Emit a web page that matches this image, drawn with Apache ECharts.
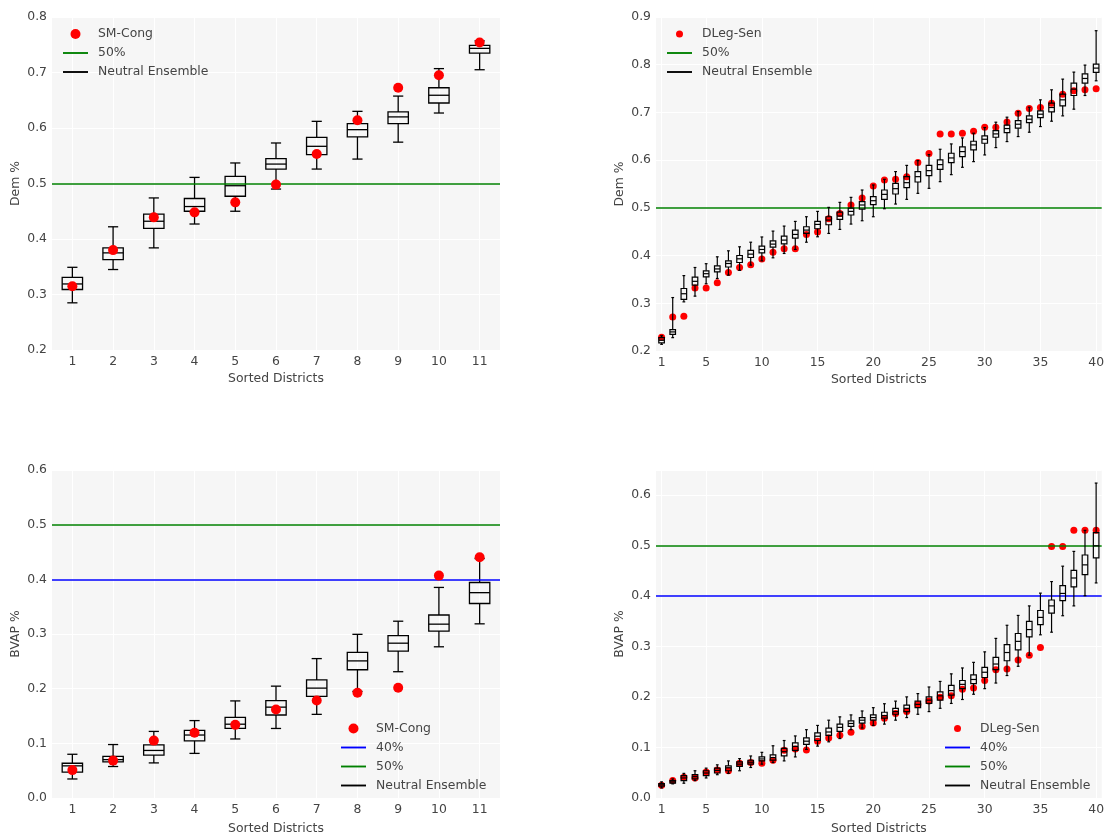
<!DOCTYPE html>
<html>
<head>
<meta charset="utf-8">
<script src="https://cdn.jsdelivr.net/npm/echarts@6/dist/echarts.min.js"></script>
<style>
html,body{margin:0;padding:0;background:#fff;}
#chart{width:1107px;height:836px;}
</style>
</head>
<body>
<div id="chart"></div>
<script>
// ---------- categories ----------
const districts11 = ['1','2','3','4','5','6','7','8','9','10','11'];
const districts40 = Array.from({length: 40}, (_, i) => String(i + 1));

// ---------- thresholds ----------
const line50 = 0.5;
const line40 = 0.4;

// ---------- Top-left: SM-Cong, Dem % ----------
const congDemLow  = [0.285,0.345,0.384,0.427,0.450,0.490,0.526,0.544,0.5745,0.627,0.705];
const congDemQ1   = [0.309,0.363,0.419,0.450,0.477,0.526,0.552,0.584,0.608,0.645,0.735];
const congDemMed  = [0.319,0.375,0.432,0.4585,0.496,0.535,0.567,0.597,0.620,0.659,0.7435];
const congDemQ3   = [0.331,0.384,0.445,0.473,0.513,0.545,0.583,0.608,0.629,0.6725,0.749];
const congDemHigh = [0.349,0.422,0.474,0.511,0.537,0.573,0.612,0.630,0.6575,0.707,0.757];
const congDemPlan = [0.315,0.380,0.439,0.448,0.466,0.498,0.553,0.614,0.6725,0.695,0.754];

// ---------- Top-right: DLeg-Sen, Dem % ----------
const senDemLow  = [0.214,0.228,0.303,0.315,0.341,0.352,0.359,0.369,0.380,0.389,0.3953,0.4044,0.4128,0.428,0.4394,0.4464,0.4548,0.466,0.473,0.4814,0.4982,0.508,0.5178,0.5304,0.5409,0.5549,0.5696,0.585,0.5969,0.6109,0.6263,0.6389,0.6494,0.6585,0.6704,0.6816,0.6928,0.7068,0.7355,0.7663];
const senDemQ1   = [0.217,0.235,0.308,0.338,0.3555,0.366,0.376,0.3855,0.396,0.4058,0.4177,0.4247,0.4366,0.4464,0.4562,0.4646,0.4758,0.485,0.4975,0.5066,0.5178,0.529,0.5423,0.5542,0.5675,0.5808,0.5948,0.6074,0.6214,0.6354,0.648,0.6578,0.6669,0.6788,0.6893,0.7012,0.7138,0.7355,0.7614,0.7838];
const senDemMed  = [0.2225,0.240,0.320,0.346,0.362,0.372,0.3834,0.3932,0.403,0.4128,0.424,0.4324,0.4443,0.4534,0.4653,0.4744,0.4828,0.4926,0.506,0.515,0.5283,0.5402,0.5528,0.5654,0.578,0.5906,0.6046,0.6179,0.6319,0.6438,0.655,0.6662,0.6753,0.6858,0.6963,0.7103,0.7264,0.7488,0.7712,0.7929];
const senDemQ3   = [0.228,0.245,0.331,0.355,0.368,0.3785,0.389,0.4002,0.4107,0.4198,0.431,0.4408,0.4534,0.4604,0.4716,0.4814,0.4912,0.4996,0.5129,0.5234,0.5374,0.5514,0.5654,0.576,0.589,0.6004,0.6144,0.6277,0.6396,0.6508,0.662,0.6732,0.683,0.6928,0.7033,0.7194,0.7383,0.7614,0.781,0.8013];
const senDemHigh = [0.232,0.312,0.358,0.375,0.383,0.3974,0.410,0.4184,0.428,0.439,0.4513,0.4618,0.4716,0.4814,0.4926,0.501,0.5115,0.522,0.5374,0.548,0.5598,0.576,0.589,0.599,0.6116,0.6228,0.634,0.6466,0.6564,0.6683,0.6795,0.690,0.7019,0.711,0.7264,0.7474,0.7698,0.7845,0.7992,0.8713];
const senDemPlan = [0.229,0.2714,0.273,0.332,0.332,0.343,0.3645,0.375,0.3806,0.393,0.4072,0.4142,0.4142,0.4443,0.4492,0.4772,0.4884,0.506,0.5206,0.5458,0.5584,0.5598,0.5654,0.5948,0.6137,0.655,0.655,0.6564,0.6606,0.669,0.669,0.6802,0.6984,0.7082,0.7103,0.7194,0.7383,0.7453,0.7474,0.7495];

// ---------- Bottom-left: SM-Cong, BVAP % ----------
const congBvapLow  = [0.0348,0.0576,0.0642,0.0816,0.108,0.1272,0.153,0.195,0.231,0.2766,0.3186];
const congBvapQ1   = [0.0474,0.066,0.0786,0.1044,0.1272,0.1518,0.186,0.2346,0.2688,0.3054,0.3558];
const congBvapMed  = [0.0588,0.0702,0.087,0.1152,0.135,0.1662,0.201,0.2508,0.2832,0.318,0.3756];
const congBvapQ3   = [0.0636,0.0762,0.0972,0.1236,0.1476,0.1782,0.216,0.2664,0.297,0.3348,0.3942];
const congBvapHigh = [0.080,0.0978,0.1218,0.1416,0.1776,0.2046,0.255,0.2994,0.3234,0.3852,0.438];
const congBvapPlan = [0.051,0.0684,0.105,0.1194,0.1338,0.162,0.1782,0.1926,0.2016,0.4068,0.4404];

// ---------- Bottom-right: DLeg-Sen, BVAP % ----------
const senBvapLow  = [0.020,0.028,0.0293,0.0345,0.0397,0.0462,0.0488,0.054,0.0605,0.0671,0.0703,0.0735,0.0814,0.0963,0.1028,0.1113,0.1178,0.1354,0.1386,0.1438,0.1464,0.1542,0.1594,0.1659,0.1712,0.1777,0.1874,0.1952,0.2056,0.2167,0.2278,0.2427,0.261,0.2831,0.3234,0.3286,0.3612,0.3807,0.4009,0.4262];
const senBvapQ1   = [0.0234,0.0293,0.0345,0.0378,0.0443,0.0495,0.054,0.0625,0.0671,0.0735,0.0749,0.0833,0.0944,0.1061,0.1139,0.1243,0.1321,0.1419,0.1484,0.1542,0.1581,0.166,0.1712,0.179,0.1874,0.1939,0.2037,0.2167,0.2265,0.2388,0.2544,0.272,0.2935,0.3195,0.3436,0.3664,0.3911,0.4184,0.4425,0.4757];
const senBvapMed  = [0.026,0.0319,0.0397,0.0423,0.0495,0.0547,0.0599,0.0671,0.0709,0.0774,0.0801,0.0918,0.1022,0.1126,0.1224,0.1308,0.1399,0.1477,0.1542,0.1594,0.1633,0.1712,0.1777,0.1855,0.1939,0.2024,0.2128,0.2252,0.2349,0.2492,0.2655,0.2883,0.3104,0.3338,0.3579,0.3807,0.4054,0.436,0.462,0.4998];
const senBvapQ3   = [0.0286,0.0345,0.0443,0.0462,0.054,0.0592,0.0638,0.0716,0.0748,0.0813,0.0853,0.0983,0.1093,0.1191,0.1289,0.1386,0.1464,0.1529,0.1594,0.1647,0.1699,0.1777,0.1842,0.192,0.2004,0.2102,0.2232,0.2329,0.244,0.259,0.2785,0.3039,0.326,0.3501,0.3716,0.3924,0.421,0.451,0.4816,0.5258];
const senBvapHigh = [0.032,0.0378,0.0488,0.054,0.0592,0.0657,0.0735,0.0781,0.0833,0.0905,0.1035,0.1139,0.123,0.1354,0.1438,0.1542,0.1608,0.1647,0.1725,0.179,0.1868,0.192,0.2004,0.2069,0.22,0.231,0.246,0.2577,0.2688,0.2896,0.3163,0.3423,0.3618,0.3807,0.406,0.4289,0.4594,0.4887,0.5304,0.6241];
const senBvapPlan = [0.0254,0.0345,0.041,0.0397,0.0514,0.0553,0.054,0.069,0.0703,0.069,0.0749,0.0944,0.097,0.095,0.1126,0.1191,0.1243,0.1302,0.1419,0.1484,0.1581,0.1673,0.1712,0.1855,0.192,0.1998,0.2024,0.2154,0.218,0.233,0.2544,0.2558,0.2733,0.2831,0.2981,0.4985,0.4985,0.5304,0.5304,0.5304];

// ---------- helpers ----------
const FONT = 'DejaVu Sans';
const TXT = '#444';
const FS = 12.4;
const LINE_ICON = 'path://M0,0 L40,0 L40,3 L0,3 Z';

function boxRows(low, q1, med, q3, high) {
  return low.map((v, i) => [i, v, q1[i], med[i], q3[i], high[i]]);
}
function dotRows(vals) { return vals.map((v, i) => [i, v]); }

function makeRender(lw) {
  return function (params, api) {
    const x = api.value(0);
    const lo = api.coord([x, api.value(1)]);
    const q1 = api.coord([x, api.value(2)]);
    const md = api.coord([x, api.value(3)]);
    const q3 = api.coord([x, api.value(4)]);
    const hi = api.coord([x, api.value(5)]);
    const bw = api.size([1, 0])[0];
    const hb = bw * 0.25, hc = bw * 0.125;
    const cx = lo[0];
    const st = {stroke: '#000', fill: 'none', lineWidth: lw};
    return {type: 'group', children: [
      {type: 'line', shape: {x1: cx, y1: q3[1], x2: cx, y2: hi[1]}, style: st},
      {type: 'line', shape: {x1: cx, y1: q1[1], x2: cx, y2: lo[1]}, style: st},
      {type: 'line', shape: {x1: cx - hc, y1: hi[1], x2: cx + hc, y2: hi[1]}, style: st},
      {type: 'line', shape: {x1: cx - hc, y1: lo[1], x2: cx + hc, y2: lo[1]}, style: st},
      {type: 'rect', shape: {x: cx - hb, y: q3[1], width: 2 * hb, height: q1[1] - q3[1]}, style: st},
      {type: 'line', shape: {x1: cx - hb, y1: md[1], x2: cx + hb, y2: md[1]}, style: st}
    ]};
  };
}

const every5 = (i) => i === 0 || (i + 1) % 5 === 0;

function xAxisFor(gridIndex, cats, gap) {
  const iv = cats.length > 20 ? every5 : 0;
  return {
    type: 'category', gridIndex, data: cats, boundaryGap: true,
    name: 'Sorted Districts', nameLocation: 'middle', nameGap: gap,
    nameTextStyle: {color: TXT, fontSize: FS, fontFamily: FONT},
    axisLine: {show: false}, axisTick: {show: false},
    axisLabel: {interval: iv, color: TXT, fontSize: FS, fontFamily: FONT, margin: 6},
    splitLine: {show: true, interval: iv, alignWithLabel: true, lineStyle: {color: '#fff', width: 1}}
  };
}
function yAxisFor(gridIndex, name, min, max, showMax) {
  return {
    type: 'value', gridIndex, min, max, interval: 0.1,
    name, nameLocation: 'middle', nameGap: 30,
    nameTextStyle: {color: TXT, fontSize: FS, fontFamily: FONT},
    axisLine: {show: false}, axisTick: {show: false},
    axisLabel: {color: TXT, fontSize: FS, fontFamily: FONT, margin: 5, showMaxLabel: showMax,
      formatter: (v) => v.toFixed(1)},
    splitLine: {show: true, lineStyle: {color: '#fff', width: 1}}
  };
}
function hLine(name, color, value, idx) {
  return {
    type: 'line', name, xAxisIndex: idx, yAxisIndex: idx, data: [], color,
    lineStyle: {color, width: 1.5}, symbol: 'none',
    markLine: {silent: true, symbol: ['none', 'none'], label: {show: false},
      lineStyle: {color, width: 1.6, type: 'solid'}, data: [{yAxis: value}]},
    z: 3
  };
}
function boxes(idx, rows, lw, z) {
  return {type: 'custom', name: 'Neutral Ensemble', xAxisIndex: idx, yAxisIndex: idx,
    itemStyle: {color: '#000'}, renderItem: makeRender(lw),
    encode: {x: 0, y: [1, 2, 3, 4, 5]}, data: rows, z};
}
function dots(name, idx, vals, size, z) {
  return {type: 'scatter', name, xAxisIndex: idx, yAxisIndex: idx, data: dotRows(vals),
    symbolSize: size, itemStyle: {color: '#ff0000', opacity: 1}, z};
}
function legendAt(left, top, dotName, withForty, dotSize) {
  const data = [{name: dotName, icon: 'circle'}];
  if (withForty) data.push({name: '40%', icon: LINE_ICON});
  data.push({name: '50%', icon: LINE_ICON});
  data.push({name: 'Neutral Ensemble', icon: LINE_ICON});
  return {
    left, top, orient: 'vertical', padding: 0, itemGap: 0,
    itemWidth: 25, itemHeight: dotSize, selectedMode: false,
    itemStyle: {borderWidth: 0},
    textStyle: {color: TXT, fontSize: FS, fontFamily: FONT, lineHeight: 19, padding: [0, 0, 0, 5]},
    data
  };
}

const chart = echarts.init(document.getElementById('chart'), null, {renderer: 'canvas'});
const option = {
  animation: false,
  backgroundColor: '#fff',
  textStyle: {fontFamily: FONT},
  grid: [
    {left: 52, top: 17, width: 448, height: 333, show: true, backgroundColor: '#f6f6f6', borderWidth: 0},
    {left: 656, top: 17, width: 447, height: 334, show: true, backgroundColor: '#f6f6f6', borderWidth: 0},
    {left: 52, top: 470, width: 448, height: 334, show: true, backgroundColor: '#f6f6f6', borderWidth: 0},
    {left: 656, top: 470, width: 447, height: 334, show: true, backgroundColor: '#f6f6f6', borderWidth: 0}
  ],
  xAxis: [
    xAxisFor(0, districts11, 23), xAxisFor(1, districts40, 23),
    xAxisFor(2, districts11, 25), xAxisFor(3, districts40, 25)
  ],
  yAxis: [
    yAxisFor(0, 'Dem %', 0.2, 0.8, true),
    yAxisFor(1, 'Dem %', 0.2, 0.9, true),
    yAxisFor(2, 'BVAP %', 0.0, 0.6, true),
    yAxisFor(3, 'BVAP %', 0.0, 0.65, false)
  ],
  legend: [
    legendAt(63, 24.5, 'SM-Cong', false, 10),
    legendAt(667, 24.5, 'DLeg-Sen', false, 7),
    legendAt(341, 719, 'SM-Cong', true, 10),
    legendAt(945, 719, 'DLeg-Sen', true, 7)
  ],
  series: [
    // top-left
    hLine('50%', '#008000', line50, 0),
    boxes(0, boxRows(congDemLow, congDemQ1, congDemMed, congDemQ3, congDemHigh), 1.3, 4),
    dots('SM-Cong', 0, congDemPlan, 10, 5),
    // top-right
    hLine('50%', '#008000', line50, 1),
    dots('DLeg-Sen', 1, senDemPlan, 7, 4),
    boxes(1, boxRows(senDemLow, senDemQ1, senDemMed, senDemQ3, senDemHigh), 1.2, 5),
    // bottom-left
    hLine('40%', '#0000ff', line40, 2),
    hLine('50%', '#008000', line50, 2),
    boxes(2, boxRows(congBvapLow, congBvapQ1, congBvapMed, congBvapQ3, congBvapHigh), 1.3, 4),
    dots('SM-Cong', 2, congBvapPlan, 10, 5),
    // bottom-right
    hLine('40%', '#0000ff', line40, 3),
    hLine('50%', '#008000', line50, 3),
    dots('DLeg-Sen', 3, senBvapPlan, 7, 4),
    boxes(3, boxRows(senBvapLow, senBvapQ1, senBvapMed, senBvapQ3, senBvapHigh), 1.2, 5)
  ]
};
chart.setOption(option);
</script>
</body>
</html>
